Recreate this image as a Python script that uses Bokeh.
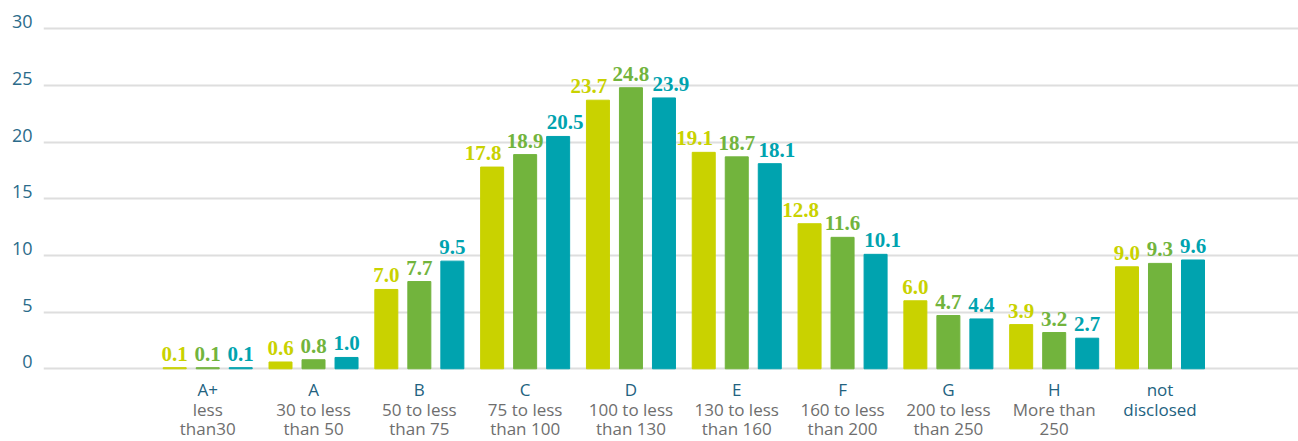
import numpy as np
from bokeh.plotting import figure
from bokeh.models import ColumnDataSource, Range1d, LinearAxis, FixedTicker, Grid, LabelSet
from bokeh.core.properties import value
from bokeh.embed import file_html
from bokeh.resources import INLINE

categories = ["A+", "A", "B", "C", "D", "E", "F", "G", "H", "not\ndisclosed"]
descriptions = ["less\nthan30", "30 to less\nthan 50", "50 to less\nthan 75", "75 to less\nthan 100",
                "100 to less\nthan 130", "130 to less\nthan 160", "160 to less\nthan 200",
                "200 to less\nthan 250", "More than\n250", ""]
series_a = [0.1, 0.6, 7.0, 17.8, 23.7, 19.1, 12.8, 6.0, 3.9, 9.0]
series_b = [0.1, 0.8, 7.7, 18.9, 24.8, 18.7, 11.6, 4.7, 3.2, 9.3]
series_c = [0.1, 1.0, 9.5, 20.5, 23.9, 18.1, 10.1, 4.4, 2.7, 9.6]
y_ticks = [0, 5, 10, 15, 20, 25, 30]

colors = ["#c9d200", "#72b43d", "#00a3af"]
cat_color = "#22627f"
desc_color = "#6e6e6e"
FONT = "Open Sans"

p = figure(width=1298, height=441, output_backend="svg", toolbar_location=None,
           x_range=Range1d(-1.552, 10.309), y_range=Range1d(-6.415, 32.497),
           x_axis_location=None, y_axis_location=None,
           min_border_left=43, min_border_right=0, min_border_top=0, min_border_bottom=0)
p.outline_line_color = None
for g in p.grid:
    g.visible = False

p.add_layout(Grid(dimension=1, ticker=FixedTicker(ticks=y_ticks),
                  grid_line_color="#dedede", grid_line_width=2))

# y axis: labels sit slightly above their grid lines
p.extra_y_ranges = {"lab": Range1d(-6.415 - 0.62, 32.497 - 0.62)}
yax = LinearAxis(y_range_name="lab", ticker=FixedTicker(ticks=y_ticks),
                 axis_line_color=None, major_tick_line_color=None, minor_tick_line_color=None,
                 major_tick_out=0, major_tick_in=0,
                 major_label_text_font=FONT, major_label_text_font_size="18px",
                 major_label_text_color="#2b6b8a", major_label_standoff=11)
p.add_layout(yax, "left")

idx = np.arange(len(categories))

# category labels (two colours) under the bars
rows = []
for i in idx:
    cat_lines = categories[i].split("\n")
    desc_lines = descriptions[i].split("\n") if descriptions[i] else []
    lines = [(t, cat_color) for t in cat_lines] + [(t, desc_color) for t in desc_lines]
    for r, (t, c) in enumerate(lines):
        rows.append((int(i), r, t, c))
row_gap = [27, 47, 66]
lab_src = ColumnDataSource(dict(x=[r[0] for r in rows],
                                text=[r[2] for r in rows],
                                color=[r[3] for r in rows],
                                yoff=[-row_gap[r[1]] for r in rows]))
p.add_layout(LabelSet(x="x", y=0, text="text", y_offset="yoff", source=lab_src,
                      text_align="center", text_baseline="alphabetic",
                      text_font=value(FONT), text_font_size="17px", text_color="color"))

step = 0.312
bar_w = 0.2174
for k, (vals, col) in enumerate(zip([series_a, series_b, series_c], colors)):
    off = (k - 1) * step
    labels = [f"{v:.1f}" for v in vals]
    xoff = [(-9 if k == 0 else (7 if k == 2 else 0)) if len(t) >= 4 else 0 for t in labels]
    src = ColumnDataSource(dict(x=idx + off, top=vals, label=labels, xoff=xoff))
    p.vbar(x="x", top="top", bottom=0, width=bar_w, color=col, source=src)
    p.add_layout(LabelSet(x="x", y="top", text="label", x_offset="xoff", y_offset=7,
                          source=src, text_align="center", text_baseline="alphabetic",
                          text_font=value("Liberation Serif"), text_font_style="bold",
                          text_font_size="21px", text_color=col))

open("out.html", "w").write(file_html(p, INLINE))
